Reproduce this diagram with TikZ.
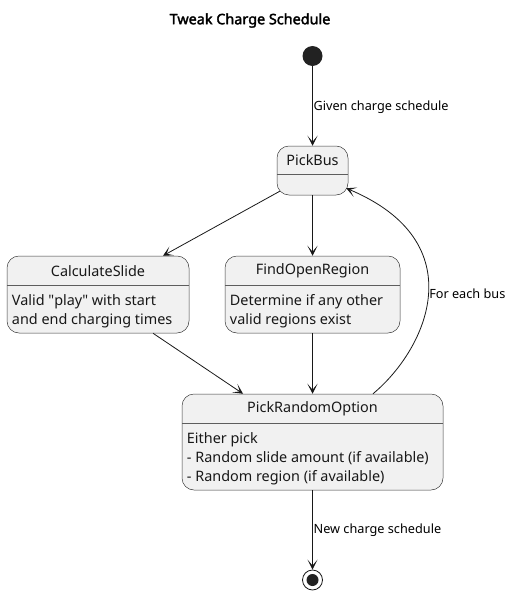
\documentclass[tikz,border=0pt]{standalone}
\usepackage{fontspec}
\setmainfont{Noto Sans}
\newfontfamily\titrefont{Noto Sans}[FakeBold=2.2]
\usetikzlibrary{calc,arrows.meta}
\definecolor{fondetat}{HTML}{F1F1F1}
\definecolor{bord}{HTML}{181818}
\definecolor{noir}{HTML}{222222}

\begin{document}
\begin{tikzpicture}[x=1pt, y=-1pt]
    % Styles
    \tikzset{fleche/.style={-{Stealth[length=10pt, width=10pt, inset=6pt]}, draw=bord, line width=0.8pt}}%
    \tikzset{etat/.style={draw=bord!85, fill=fondetat, rounded corners=12pt, line width=0.5pt, inner sep=0pt}}%
    \tikzset{separation/.style={draw=bord!70, line width=0.5pt}}%
    \tikzset{titre/.style={font=\fontsize{14.4pt}{19pt}\selectfont, text=bord}}%
    \tikzset{corps/.style={titre, anchor=north west, align=left, inner sep=0pt}}%
    \tikzset{etiquette/.style={font=\fontsize{12.7pt}{17pt}\selectfont, text=black, inner sep=0.7pt}}%

    \useasboundingbox (0,0) rectangle (512,594);%

    % Titre
    \node[font=\fontsize{14.4pt}{17pt}\titrefont] (entete) at (250,20.5) {Tweak Charge Schedule};%

    % Debut et fin
    \node[circle, fill=noir, minimum size=20pt, inner sep=0pt] (debut) at (312.5,56) {};%
    \node[circle, draw=bord, line width=0.8pt, minimum size=20pt, inner sep=0pt] (fin) at (312.5,580) {};%
    \fill[noir] (fin.center) circle[radius=6];%

    % Etats
    \node[etat, minimum width=71pt, minimum height=49pt] (pickbus) at (312.5,170.5) {};%
    \node[titre] (pickbus-t) at ($(pickbus.north)+(0,14.5)$) {PickBus};%
    \draw[separation] ($(pickbus.north west)+(0,28)$) -- ($(pickbus.north east)+(0,28)$);%

    \node[etat, minimum width=182pt, minimum height=77pt] (calcslide) at (98,294.5) {};%
    \node[titre] (calcslide-t) at ($(calcslide.north)+(0,15.5)$) {CalculateSlide};%
    \draw[separation] ($(calcslide.north west)+(0,29)$) -- ($(calcslide.north east)+(0,29)$);%
    \node[corps] (calcslide-c) at ($(calcslide.north west)+(5,38.5)$) {Valid \textquotedbl play\textquotedbl{} with start\\and end charging times};%

    \node[etat, minimum width=175pt, minimum height=77pt] (findregion) at (312.5,294.5) {};%
    \node[titre] (findregion-t) at ($(findregion.north)+(0,15.5)$) {FindOpenRegion};%
    \draw[separation] ($(findregion.north west)+(0,29)$) -- ($(findregion.north east)+(0,29)$);%
    \node[corps] (findregion-c) at ($(findregion.north west)+(5,38.5)$) {Determine if any other\\valid regions exist};%

    \node[etat, minimum width=261pt, minimum height=96pt] (pickrandom) at (312.5,442) {};%
    \node[titre] (pickrandom-t) at ($(pickrandom.north)+(0,15.5)$) {PickRandomOption};%
    \draw[separation] ($(pickrandom.north west)+(0,29)$) -- ($(pickrandom.north east)+(0,29)$);%
    \node[corps] (pickrandom-c) at ($(pickrandom.north west)+(5,38.5)$) {Either pick\\- Random slide amount (if available)\\- Random region (if available)};%

    % Transitions
    \draw[fleche] (debut) -- (pickbus) node[midway, right, etiquette, yshift=-1pt] {Given charge schedule};%
    \draw[fleche] ($(pickbus.south west)+(3,-4)$) -- ($(calcslide.north)+(65,0)$);%
    \draw[fleche] (pickbus) -- (findregion);%
    \draw[fleche] ($(calcslide.south)+(55,0)$) -- ($(pickrandom.north)+(-69.5,0)$);%
    \draw[fleche] (findregion) -- (pickrandom);%
    \coordinate (retour) at ($(pickbus.south east)+(-2,-7)$);%
    \draw[fleche] ($(pickrandom.north)+(60.5,0)$) .. controls (428,348) and (474,242) .. (retour)
    node[pos=0.5, right, etiquette] {For each bus};%
    \draw[fleche] (pickrandom) -- (fin) node[midway, right, etiquette] {New charge schedule};%
\end{tikzpicture}
\end{document}
